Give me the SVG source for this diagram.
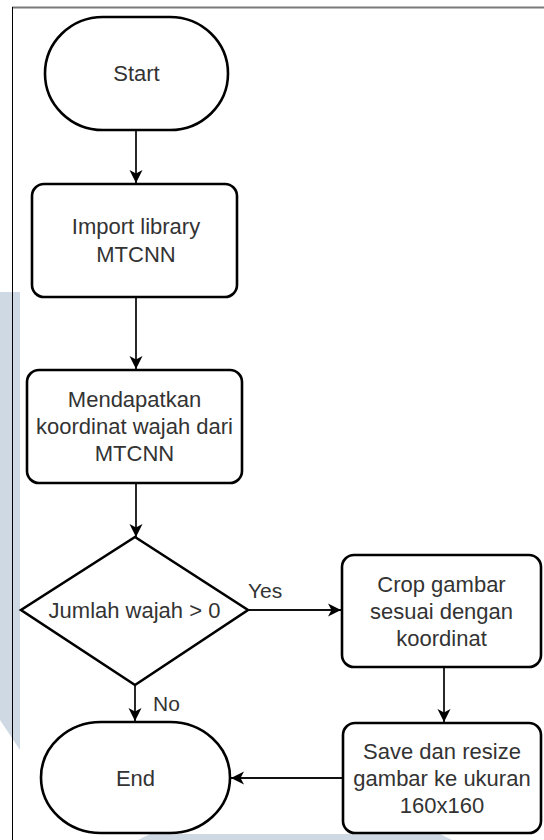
<svg xmlns="http://www.w3.org/2000/svg" width="544" height="840" viewBox="0 0 544 840">
<style>
.node{fill:#fff;stroke:#000;stroke-width:2.6}
.lbl{font-family:"Liberation Sans",Arial,sans-serif;font-size:22px;fill:#333;text-anchor:middle}
.elbl{font-family:"Liberation Sans",Arial,sans-serif;font-size:21px;fill:#333}
.edge{fill:none;stroke:#111;stroke-width:1.8}
.wm{fill:#cfd9e4}
</style>
<defs>
<marker id="arr" markerUnits="userSpaceOnUse" markerWidth="14" markerHeight="14" refX="13" refY="7" orient="auto">
<path d="M0,0.5 L13,7 L0,13.5 L3.5,7 Z" fill="#000"/>
</marker>
</defs>
<rect x="0" y="0" width="544" height="840" fill="#fff"/>
<g id="watermark">
<polygon class="wm" points="0,292 20,292 20,750 0,720"/>
<polygon class="wm" points="138,840 150,834 440,834 452,840"/>
</g>
<g id="frame">
<line x1="12" y1="7.5" x2="544" y2="7.5" stroke="#7a7a7a" stroke-width="2"/>
<line x1="12.5" y1="7" x2="12.5" y2="840" stroke="#000" stroke-width="1"/>
</g>
<g id="connectors">
<line class="edge" x1="136" y1="130" x2="136" y2="183" marker-end="url(#arr)"/>
<line class="edge" x1="136" y1="298" x2="136" y2="369" marker-end="url(#arr)"/>
<line class="edge" x1="136" y1="484" x2="136" y2="537" marker-end="url(#arr)"/>
<line class="edge" x1="248" y1="610" x2="341" y2="610" marker-end="url(#arr)"/>
<text class="elbl" x="248" y="598">Yes</text>
<line class="edge" x1="135" y1="686" x2="135" y2="721" marker-end="url(#arr)"/>
<text class="elbl" x="153" y="711">No</text>
<line class="edge" x1="444" y1="668" x2="444" y2="722" marker-end="url(#arr)"/>
<line class="edge" x1="343" y1="778" x2="231" y2="778" marker-end="url(#arr)"/>
</g>
<g id="start">
<rect class="node" x="45" y="17" width="183" height="113" rx="58" ry="56.5"/>
<text class="lbl" x="136.5" y="81">Start</text>
</g>
<g id="import">
<rect class="node" x="32" y="184" width="205" height="113" rx="12"/>
<text class="lbl" x="136" y="234">Import library</text>
<text class="lbl" x="136" y="262">MTCNN</text>
</g>
<g id="koordinat">
<rect class="node" x="27" y="370" width="215" height="113" rx="12"/>
<text class="lbl" x="134.5" y="407">Mendapatkan</text>
<text class="lbl" x="134.5" y="434">koordinat wajah dari</text>
<text class="lbl" x="134.5" y="461">MTCNN</text>
</g>
<g id="decision">
<polygon class="node" points="135,537 248,610 135,685 21,610"/>
<text class="lbl" x="134.5" y="618">Jumlah wajah &gt; 0</text>
</g>
<g id="crop">
<rect class="node" x="342" y="555" width="199" height="112" rx="12"/>
<text class="lbl" x="441.5" y="592">Crop gambar</text>
<text class="lbl" x="441.5" y="619">sesuai dengan</text>
<text class="lbl" x="441.5" y="646">koordinat</text>
</g>
<g id="save">
<rect class="node" x="343" y="723" width="198" height="110" rx="12"/>
<text class="lbl" x="442" y="759">Save dan resize</text>
<text class="lbl" x="442" y="786">gambar ke ukuran</text>
<text class="lbl" x="442" y="813">160x160</text>
</g>
<g id="end">
<rect class="node" x="41" y="722" width="189" height="111" rx="60" ry="55.5"/>
<text class="lbl" x="135.5" y="786">End</text>
</g>
</svg>
